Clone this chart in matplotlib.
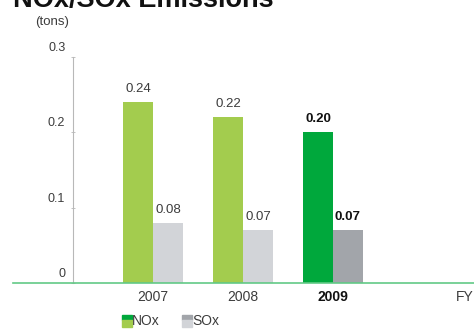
import matplotlib.pyplot as plt
import matplotlib.transforms as mtransforms
from matplotlib.patches import Rectangle
import numpy as np

plt.rcParams["font.family"] = ["Liberation Sans", "DejaVu Sans"]

years = ["2007", "2008", "2009"]
nox = [0.24, 0.22, 0.20]
sox = [0.08, 0.07, 0.07]
y_ticks = [0, 0.1, 0.2, 0.3]
y_tick_labels = ["0", "0.1", "0.2", "0.3"]

LIGHT_GREEN = "#a3cc4e"
DARK_GREEN = "#00a83c"
LIGHT_GRAY = "#d2d4d8"
DARK_GRAY = "#a2a5aa"
LINE_GREEN = "#62c986"
TXT = "#3c3c3c"

W, H = 474, 331
fig = plt.figure(figsize=(W / 100, H / 100), dpi=100, facecolor="white")
# axes: left spine at x=73px, zero line at y=283px, 0.3 at y=57px
ax = fig.add_axes([73 / W, 48 / H, (W - 73) / W, 226 / H])

x = np.arange(len(years))
bw = 1 / 3
nox_colors = [LIGHT_GREEN, LIGHT_GREEN, DARK_GREEN]
sox_colors = [LIGHT_GRAY, LIGHT_GRAY, DARK_GRAY]
b1 = ax.bar(x - bw / 2, nox, bw, color=nox_colors, zorder=2)
b2 = ax.bar(x + bw / 2, sox, bw, color=sox_colors, zorder=2)

ax.set_xlim(-80 / 90, (W - 153) / 90)
ax.set_ylim(0, 0.3)

for bars, vals in ((b1, nox), (b2, sox)):
    for i, (bar, v) in enumerate(zip(bars, vals)):
        last = i == len(vals) - 1
        ax.annotate(f"{v:.2f}", (bar.get_x() + bar.get_width() / 2, v),
                    xytext=(0, 5), textcoords="offset points",
                    ha="center", va="bottom", fontsize=9.5,
                    fontweight="bold" if last else "normal",
                    color="#111111" if last else TXT)

# spines
for s in ("top", "right", "bottom"):
    ax.spines[s].set_visible(False)
ax.spines["left"].set_color("#b8b8b8")
ax.spines["left"].set_linewidth(0.8)
ax.axhline(0, xmin=-60 / (W - 73), xmax=1, color=LINE_GREEN, lw=1.2,
           clip_on=False, zorder=3)

ax.set_yticks(y_ticks)
ax.set_yticklabels(y_tick_labels, fontsize=9, color=TXT, va="bottom")
ax.tick_params(axis="y", length=3, width=0.6, color="#b8b8b8", pad=4,
               direction="inout")
off = mtransforms.ScaledTranslation(0, 3 / 100, fig.dpi_scale_trans)
for lab in ax.get_yticklabels():
    lab.set_transform(lab.get_transform() + off)

ax.set_xticks(x)
ax.set_xticklabels(years, fontsize=10, color=TXT)
ax.tick_params(axis="x", length=0, pad=5)
ax.get_xticklabels()[-1].set_fontweight("bold")
ax.get_xticklabels()[-1].set_color("#111111")

fig.text(13 / W, 1 - 7 / H, "NOx/SOx Emissions", fontsize=19.5,
         fontweight="bold", color="#111111", va="baseline", ha="left")
fig.text(35 / W, 1 - 22 / H, "(tons)", fontsize=9.5, color=TXT,
         ha="left", va="center")
fig.text(474 / W, 1 - 297 / H, "FY", fontsize=10, color=TXT,
         ha="right", va="center")

# legend with two-tone swatches
for px, top, bottom, name in ((122, DARK_GREEN, LIGHT_GREEN, "NOx"),
                               (182, DARK_GRAY, LIGHT_GRAY, "SOx")):
    fig.patches.append(Rectangle((px / W, 1 - 320 / H), 10 / W, 5 / H,
                                 transform=fig.transFigure, color=top))
    fig.patches.append(Rectangle((px / W, 1 - 327 / H), 10 / W, 7 / H,
                                 transform=fig.transFigure, color=bottom))
    fig.text((px + 10) / W, 1 - 321 / H, name, fontsize=10, color=TXT,
             ha="left", va="center")

fig.savefig("out.png", dpi=100, facecolor="white")
